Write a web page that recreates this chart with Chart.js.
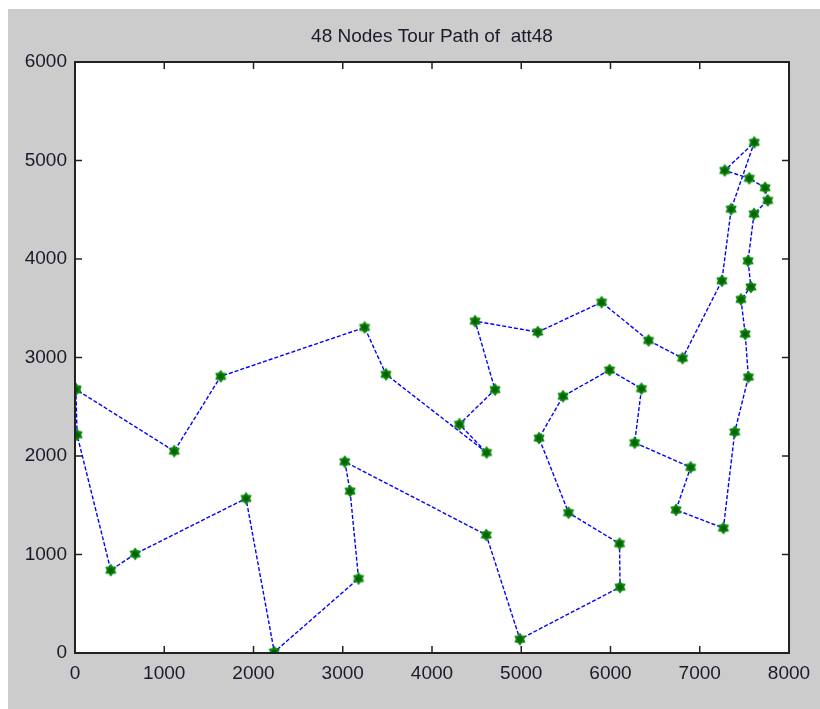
<!DOCTYPE html>
<html>
<head>
<meta charset="utf-8">
<script src="https://cdn.jsdelivr.net/npm/chart.js@4/dist/chart.umd.min.js"></script>
<style>
html,body{margin:0;padding:0;background:#fff;}
canvas{display:block;}
</style>
</head>
<body>
<canvas id="c" width="820" height="709"></canvas>
<script>
// att48 tour, in visiting order (node numbers and coordinates)
const tourNodes = [45,35,4,26,42,2,29,5,48,34,41,16,22,3,23,11,12,15,40,9,1,8,38,31,44,18,7,28,6,37,19,27,43,17,30,36,46,33,20,47,21,13,25,14,39,32,24,10];
const tourX = [10,23,401,675,1916,2233,3177,3082,3023,4608,4985,6107,6101,5530,5199,5468,5989,6347,6271,6898,6734,7265,7392,7545,7509,7462,7573,7541,7608,7762,7732,7555,7280,7611,7352,7248,6807,6426,5900,5185,4483,4706,4307,4612,3484,3245,1633,1112];
const tourY = [2676,2216,841,1006,1569,10,756,1644,1942,1198,140,669,1110,1424,2182,2606,2873,2683,2135,1885,1453,1268,2244,2801,3239,3590,3716,3981,4458,4595,4723,4819,4899,5184,4506,3779,2993,3173,3561,3258,3369,2674,2322,2035,2829,3305,2809,2049];
const xTicks = [0,1000,2000,3000,4000,5000,6000,7000,8000];
const yTicks = [0,1000,2000,3000,4000,5000,6000];
const titleText = '48 Nodes Tour Path of  att48';

// closed tour: return to the first node
const pts = tourX.map((x,i)=>({x:x,y:tourY[i]}));
pts.push({x:tourX[0],y:tourY[0]});

// star marker
function makeStar(){
  const c=document.createElement('canvas'); c.width=14; c.height=14;
  const g=c.getContext('2d'); g.fillStyle='#0b860b';
  g.beginPath();
  const cx=7,cy=7,R=6.5,r=4.2;
  for(let i=0;i<12;i++){
    const a=-Math.PI/2+i*Math.PI/6; const rr=i%2?r:R;
    const px=cx+rr*Math.cos(a), py=cy+rr*Math.sin(a);
    i?g.lineTo(px,py):g.moveTo(px,py);
  }
  g.closePath(); g.fill();
  g.fillStyle='#006000'; g.beginPath(); g.arc(cx,cy,2.6,0,Math.PI*2); g.fill();
  return c;
}
const star=makeStar();

const FONT='"Liberation Sans Narrow", "Liberation Sans", Arial, sans-serif';

const framePlugin={
  id:'frame',
  beforeDraw(chart){
    const ctx=chart.ctx, a=chart.chartArea;
    ctx.save();
    ctx.fillStyle='#ffffff'; ctx.fillRect(0,0,chart.width,chart.height);
    ctx.fillStyle='#cccccc'; ctx.fillRect(8,9,chart.width-8,chart.height-9);
    ctx.fillStyle='#ffffff'; ctx.fillRect(a.left,a.top,a.right-a.left,a.bottom-a.top);
    ctx.restore();
  },
  afterDraw(chart){
    const ctx=chart.ctx, a=chart.chartArea;
    const xs=chart.scales.x, ys=chart.scales.y;
    ctx.save();
    ctx.strokeStyle='#222'; ctx.lineWidth=2;
    ctx.strokeRect(a.left,a.top,a.right-a.left,a.bottom-a.top);
    ctx.lineWidth=1.5; ctx.beginPath();
    const L=7;
    xTicks.forEach(v=>{const p=xs.getPixelForValue(v);
      ctx.moveTo(p,a.bottom); ctx.lineTo(p,a.bottom-L);
      ctx.moveTo(p,a.top); ctx.lineTo(p,a.top+L);});
    yTicks.forEach(v=>{const p=ys.getPixelForValue(v);
      ctx.moveTo(a.left,p); ctx.lineTo(a.left+L,p);
      ctx.moveTo(a.right,p); ctx.lineTo(a.right-L,p);});
    ctx.stroke();
    ctx.fillStyle='#1a1a2a'; ctx.font='19px '+FONT;
    ctx.textAlign='center'; ctx.textBaseline='middle';
    ctx.fillText(titleText,(a.left+a.right)/2,37);
    ctx.restore();
  }
};

new Chart(document.getElementById('c'),{
  type:'scatter',
  data:{datasets:[{
    data:pts,
    showLine:true,
    borderColor:'#0000ff',
    borderWidth:1.4,
    borderDash:[4,2],
    pointStyle:star,
    pointRadius:7,
    pointHoverRadius:7
  }]},
  options:{
    responsive:false, animation:false, devicePixelRatio:1,
    layout:{padding:{left:0,top:62,right:31,bottom:0}},
    plugins:{legend:{display:false},tooltip:{enabled:false},title:{display:false}},
    scales:{
      x:{type:'linear',min:0,max:8000,
        afterBuildTicks(s){s.ticks=xTicks.map(v=>({value:v}));},
        afterFit(s){s.height=56;},
        grid:{display:false,drawTicks:false},border:{display:false},
        ticks:{padding:9,color:'#1a1a2a',font:{family:FONT,size:19},maxRotation:0,autoSkip:false,callback:v=>String(v)}},
      y:{type:'linear',min:0,max:6000,
        afterBuildTicks(s){s.ticks=yTicks.map(v=>({value:v}));},
        afterFit(s){s.width=75;},
        grid:{display:false,drawTicks:false},border:{display:false},
        ticks:{padding:8,color:'#1a1a2a',font:{family:FONT,size:19},autoSkip:false,callback:v=>String(v)}}
    }
  },
  plugins:[framePlugin]
});
</script>
</body>
</html>
